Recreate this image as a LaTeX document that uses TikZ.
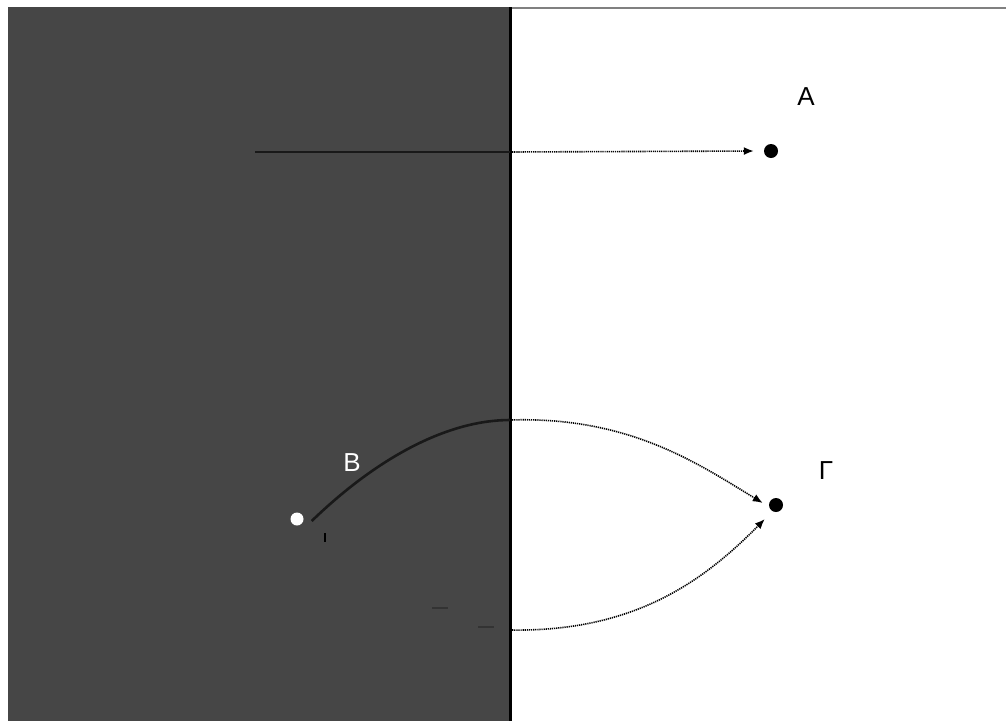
\documentclass[tikz,border=0pt]{standalone}
\usepackage{fontspec}
\setmainfont{Liberation Sans}
\usetikzlibrary{arrows.meta}
\definecolor{panel}{RGB}{70,70,70}
\tikzset{
  dotnode/.style={circle,fill=black,inner sep=0pt,minimum size=14pt},
  wdot/.style={circle,fill=white,inner sep=0pt,minimum size=13pt},
  lbl/.style={font=\fontsize{26}{28}\selectfont,inner sep=0pt},
  darkpart/.style={draw=black!90,line width=2.6pt},
  dotpart/.style={draw=black,line width=1.6pt,dash pattern=on 1.2pt off 0.9pt},
  tip/.style={-{Latex[length=10pt,width=8pt]}}
}
\begin{document}
\begin{tikzpicture}[x=1pt,y=-1pt]
\useasboundingbox (0,0) rectangle (1006,721);
\fill[white] (0,0) rectangle (1006,721);
\fill[panel] (8,7) rectangle (509,721);
\draw[black,line width=3pt] (510,7) -- (510,721);
\draw[gray,line width=1.5pt] (512,8) -- (1006,8);
% nodes
\node[dotnode] (A) at (771,151) {};
\node[dotnode] (G) at (776,505) {};
\node[wdot] (B) at (297,519) {};
\node[lbl] (la) at (806,97) {A};
\node[lbl] (lg) at (826,471) {Γ};
\node[lbl,text=white] (lb) at (352,463) {B};
% coordinates
\coordinate (a0) at (255,152);
\coordinate (a1) at (510,152);
\coordinate (u1) at (510,420);
\coordinate (l1) at (510,630);
% arrow to A
\draw[darkpart] (a0) -- (a1);
\draw[dotpart,tip] (a1) -- ([xshift=-10pt]A.west);
% upper curve from B to Gamma
\draw[darkpart] ([xshift=8pt,yshift=-2pt]B.east) .. controls (380,455) and (450,420) .. (u1);
\draw[dotpart,tip] (u1) .. controls (630,416) and (700,465) .. ([xshift=-6pt,yshift=2pt]G.west);
% lower curve
\draw[dotpart,tip] (l1) .. controls (630,632) and (700,585) .. ([xshift=-4pt,yshift=-14pt]G.west);
\coordinate (m1) at (432,608);
\coordinate (m2) at (448,608);
\coordinate (m3) at (478,627);
\coordinate (m4) at (494,627);
\draw[black!80,line width=1.8pt] (m1) -- (m2);
\draw[black!80,line width=1.8pt] (m3) -- (m4);
\coordinate (t1) at (325,533);
\coordinate (t2) at (325,542);
\draw[black,line width=2.5pt] (t1) -- (t2);
\end{tikzpicture}
\end{document}
